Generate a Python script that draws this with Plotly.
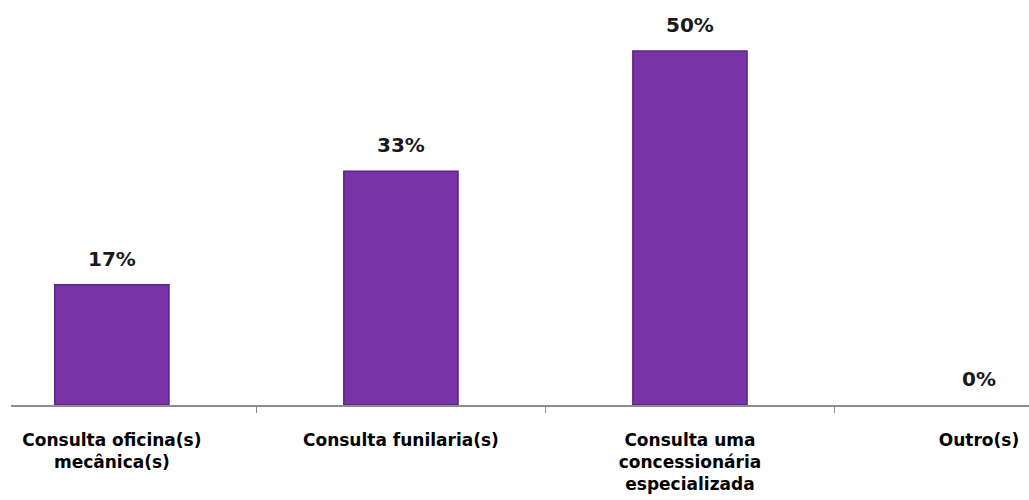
import plotly.graph_objects as go

categories = [
    "Consulta oficina(s)<br>mecânica(s)",
    "Consulta funilaria(s)",
    "Consulta uma<br>concessionária<br>especializada",
    "Outro(s)",
]
values = [17, 33, 50, 0]
value_labels = ["17%", "33%", "50%", "0%"]

BAR_COLOR = "#7834A7"
EDGE_COLOR = "#5A2186"

fig = go.Figure()
fig.add_trace(go.Bar(
    x=categories,
    y=values,
    width=0.395,
    marker=dict(
        color=BAR_COLOR,
        line=dict(color=EDGE_COLOR, width=[1.5 if v > 0 else 0 for v in values]),
    ),
    hoverinfo="skip",
))

for cat, val, lab in zip(categories, values, value_labels):
    fig.add_annotation(
        x=cat, y=val, text=lab, showarrow=False,
        yanchor="bottom", yshift=12,
        font=dict(family="DejaVu Sans", size=20, color="#1a1a1a", weight="bold"),
    )

fig.update_layout(
    width=1029, height=500,
    margin=dict(l=11, r=0, t=0, b=95),
    paper_bgcolor="white", plot_bgcolor="white",
    showlegend=False,
)
fig.update_xaxes(
    type="category",
    range=[-0.349, 3.173],
    showline=True, linecolor="#8c8c8c", linewidth=1.5,
    ticks="outside", tickson="boundaries", ticklen=6, tickcolor="#8c8c8c",
    showgrid=False,
    tickfont=dict(family="DejaVu Sans", size=17, color="#000000", weight="bold"),
    ticklabelstandoff=19,
)
fig.update_yaxes(
    range=[0, 57.2],
    visible=False,
    showgrid=False,
    zeroline=False,
)

fig.write_html("out.html")
